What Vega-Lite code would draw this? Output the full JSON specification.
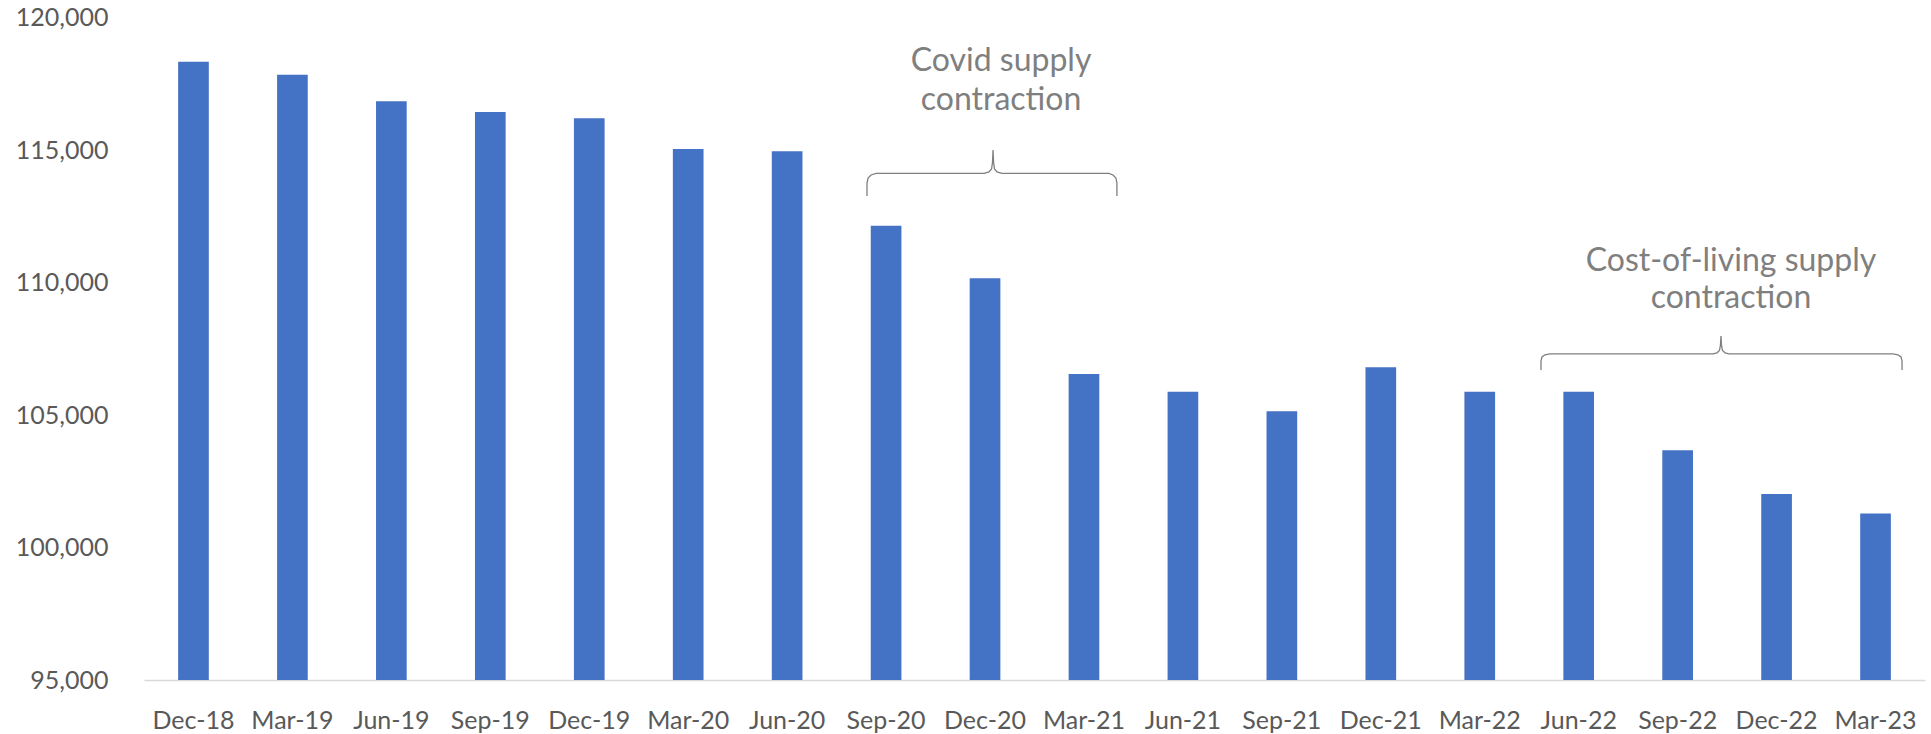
{
  "$schema": "https://vega.github.io/schema/vega-lite/v6.json",
  "width": 1781,
  "height": 662.5,
  "autosize": {"type": "none"},
  "padding": {"left": 144, "top": 17.5, "right": 6, "bottom": 54},
  "background": "white",
  "config": {"view": {"stroke": null}, "font": "Lato"},
  "datasets": {
    "bars": [
      {"quarter": "Dec-18", "value": 118330},
      {"quarter": "Mar-19", "value": 117840},
      {"quarter": "Jun-19", "value": 116840},
      {"quarter": "Sep-19", "value": 116430},
      {"quarter": "Dec-19", "value": 116200},
      {"quarter": "Mar-20", "value": 115040},
      {"quarter": "Jun-20", "value": 114950},
      {"quarter": "Sep-20", "value": 112140},
      {"quarter": "Dec-20", "value": 110160},
      {"quarter": "Mar-21", "value": 106550},
      {"quarter": "Jun-21", "value": 105880},
      {"quarter": "Sep-21", "value": 105140},
      {"quarter": "Dec-21", "value": 106800},
      {"quarter": "Mar-22", "value": 105880},
      {"quarter": "Jun-22", "value": 105880},
      {"quarter": "Sep-22", "value": 103670},
      {"quarter": "Dec-22", "value": 102020},
      {"quarter": "Mar-23", "value": 101280}
    ],
    "braces": [
      {"brace": "covid", "i": 1, "bx": 7.307, "v": 113264},
      {"brace": "covid", "i": 2, "bx": 7.307, "v": 113755},
      {"brace": "covid", "i": 3, "bx": 7.318, "v": 113943},
      {"brace": "covid", "i": 4, "bx": 7.348, "v": 114057},
      {"brace": "covid", "i": 5, "bx": 7.399, "v": 114121},
      {"brace": "covid", "i": 6, "bx": 8.490, "v": 114121},
      {"brace": "covid", "i": 7, "bx": 8.540, "v": 114170},
      {"brace": "covid", "i": 8, "bx": 8.566, "v": 114283},
      {"brace": "covid", "i": 9, "bx": 8.576, "v": 114547},
      {"brace": "covid", "i": 10, "bx": 8.581, "v": 115000},
      {"brace": "covid", "i": 11, "bx": 8.586, "v": 114547},
      {"brace": "covid", "i": 12, "bx": 8.596, "v": 114283},
      {"brace": "covid", "i": 13, "bx": 8.621, "v": 114170},
      {"brace": "covid", "i": 14, "bx": 8.671, "v": 114121},
      {"brace": "covid", "i": 15, "bx": 9.753, "v": 114121},
      {"brace": "covid", "i": 16, "bx": 9.793, "v": 114057},
      {"brace": "covid", "i": 17, "bx": 9.823, "v": 113943},
      {"brace": "covid", "i": 18, "bx": 9.833, "v": 113755},
      {"brace": "covid", "i": 19, "bx": 9.833, "v": 113264},
      {"brace": "col", "i": 1, "bx": 14.119, "v": 106698},
      {"brace": "col", "i": 2, "bx": 14.119, "v": 107038},
      {"brace": "col", "i": 3, "bx": 14.129, "v": 107189},
      {"brace": "col", "i": 4, "bx": 14.159, "v": 107272},
      {"brace": "col", "i": 5, "bx": 14.210, "v": 107310},
      {"brace": "col", "i": 6, "bx": 15.857, "v": 107310},
      {"brace": "col", "i": 7, "bx": 15.898, "v": 107347},
      {"brace": "col", "i": 8, "bx": 15.923, "v": 107434},
      {"brace": "col", "i": 9, "bx": 15.933, "v": 107642},
      {"brace": "col", "i": 10, "bx": 15.938, "v": 107981},
      {"brace": "col", "i": 11, "bx": 15.943, "v": 107642},
      {"brace": "col", "i": 12, "bx": 15.953, "v": 107434},
      {"brace": "col", "i": 13, "bx": 15.979, "v": 107347},
      {"brace": "col", "i": 14, "bx": 16.019, "v": 107310},
      {"brace": "col", "i": 15, "bx": 17.677, "v": 107310},
      {"brace": "col", "i": 16, "bx": 17.727, "v": 107272},
      {"brace": "col", "i": 17, "bx": 17.758, "v": 107189},
      {"brace": "col", "i": 18, "bx": 17.768, "v": 107038},
      {"brace": "col", "i": 19, "bx": 17.768, "v": 106698}
    ],
    "notes": [
      {"label": "Covid supply", "bx": 8.662, "v": 118350},
      {"label": "contraction", "bx": 8.662, "v": 116900},
      {"label": "Cost-of-living supply", "bx": 16.039, "v": 110820},
      {"label": "contraction", "bx": 16.039, "v": 109420}
    ]
  },
  "layer": [
    {
      "data": {"name": "bars"},
      "mark": {"type": "bar", "color": "#4472C4", "clip": true},
      "encoding": {
        "x": {
          "field": "quarter", "type": "ordinal", "sort": null,
          "scale": {"paddingInner": 0.69, "paddingOuter": 0.345},
          "axis": {"title": null, "labelAngle": 0, "ticks": false, "domain": true, "domainColor": "#d9d9d9", "domainWidth": 1.5, "labelFont": "Lato", "labelFontSize": 25, "labelColor": "#595959", "labelPadding": 28, "grid": false}
        },
        "y": {
          "field": "value", "type": "quantitative",
          "scale": {"domain": [95000, 120000], "nice": false, "zero": false},
          "axis": {"title": null, "values": [95000, 100000, 105000, 110000, 115000, 120000], "format": ",.0f", "domain": false, "ticks": false, "grid": false, "labelFont": "Lato", "labelFontSize": 25, "labelColor": "#595959", "labelPadding": 36}
        }
      }
    },
    {
      "data": {"name": "braces"},
      "mark": {"type": "line", "color": "#7f7f7f", "strokeWidth": 1.3},
      "encoding": {
        "x": {"field": "bx", "type": "quantitative", "scale": {"domain": [0, 18], "nice": false, "zero": false}, "axis": null},
        "y": {"field": "v", "type": "quantitative", "scale": {"domain": [95000, 120000], "nice": false, "zero": false},
          "axis": {"title": null, "values": [95000, 100000, 105000, 110000, 115000, 120000], "format": ",.0f", "domain": false, "ticks": false, "grid": false, "labelFont": "Lato", "labelFontSize": 25, "labelColor": "#595959", "labelPadding": 36}},
        "detail": {"field": "brace"},
        "order": {"field": "i"}
      }
    },
    {
      "data": {"name": "notes"},
      "mark": {"type": "text", "font": "Lato", "fontSize": 32, "color": "#7f7f7f", "align": "center", "baseline": "middle"},
      "encoding": {
        "x": {"field": "bx", "type": "quantitative", "scale": {"domain": [0, 18], "nice": false, "zero": false}, "axis": null},
        "y": {"field": "v", "type": "quantitative", "scale": {"domain": [95000, 120000], "nice": false, "zero": false},
          "axis": {"title": null, "values": [95000, 100000, 105000, 110000, 115000, 120000], "format": ",.0f", "domain": false, "ticks": false, "grid": false, "labelFont": "Lato", "labelFontSize": 25, "labelColor": "#595959", "labelPadding": 36}},
        "text": {"field": "label"}
      }
    }
  ],
  "resolve": {"scale": {"x": "independent"}}
}
